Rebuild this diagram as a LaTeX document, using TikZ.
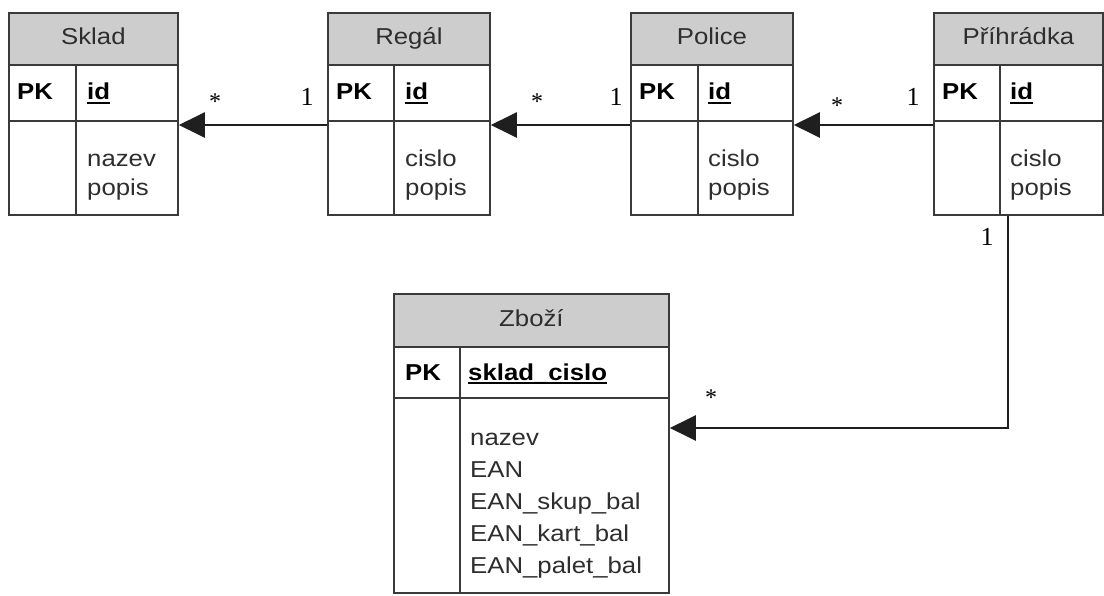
\documentclass[tikz,border=0pt]{standalone}
\usepackage{fontspec}
\setmainfont[FakeStretch=1.12]{Liberation Sans}
\newfontfamily\labfont{Liberation Serif}
\usetikzlibrary{arrows.meta}
\definecolor{hdrgray}{HTML}{CDCDCD}
\definecolor{linegray}{HTML}{3A3A3A}
\definecolor{txt}{HTML}{2E2E2E}
\begin{document}
\begin{tikzpicture}[x=1pt,y=-1pt,
  tbl/.style={draw=linegray, line width=1.8pt, anchor=north west, inner sep=0pt, fill=white},
  hdr/.style={draw=linegray, line width=1.8pt, fill=hdrgray, anchor=north west, inner sep=0pt,
    font=\fontsize{23}{28}\selectfont, text=txt, text height=17pt, text depth=5pt},
  grid/.style={draw=linegray, line width=1.8pt},
  uline/.style={draw=black, line width=1.3pt},
  fld/.style={anchor=base west, inner sep=0pt, font=\fontsize{23}{28}\selectfont, text=txt},
  pk/.style={anchor=base west, inner sep=0pt, font=\fontsize{23}{28}\selectfont\bfseries, text=black},
  one/.style={anchor=base, inner sep=0pt, font=\fontsize{26}{30}\labfont, text=black},
  many/.style={anchor=base, inner sep=0pt, font=\fontsize{24}{28}\labfont, text=black},
  conn/.style={draw=black!88, line width=2.2pt, -{Triangle[length=26pt,width=25pt]}}
]
\useasboundingbox (0,0) rectangle (1104,596);

% ---------- Sklad ----------
\node[tbl, minimum width=169pt, minimum height=202pt] (sklad) at (8,12) {};
\node[hdr, minimum width=169pt, minimum height=52pt] (skladH) at (8,12) {Sklad};
\draw[grid] (8,121) -- (177,121) (76,64) -- (76,214);
\node[pk] (skladPK) at (17,100) {PK};
\node[pk] (skladId) at (87,100) {id};
\draw[uline] ([yshift=-3pt]skladId.base west) -- ([yshift=-3pt]skladId.base east);
\node[fld] (skladA1) at (87,167) {nazev};
\node[fld] (skladA2) at (87,196) {popis};

% ---------- Regal ----------
\node[tbl, minimum width=162pt, minimum height=202pt] (regal) at (327,12) {};
\node[hdr, minimum width=162pt, minimum height=52pt] (regalH) at (327,12) {Regál};
\draw[grid] (327,121) -- (489,121) (394,64) -- (394,214);
\node[pk] (regalPK) at (336,100) {PK};
\node[pk] (regalId) at (405,100) {id};
\draw[uline] ([yshift=-3pt]regalId.base west) -- ([yshift=-3pt]regalId.base east);
\node[fld] (regalA1) at (405,167) {cislo};
\node[fld] (regalA2) at (405,196) {popis};

% ---------- Police ----------
\node[tbl, minimum width=162pt, minimum height=202pt] (police) at (630,12) {};
\node[hdr, minimum width=162pt, minimum height=52pt] (policeH) at (630,12) {Police};
\draw[grid] (630,121) -- (792,121) (698,64) -- (698,214);
\node[pk] (policePK) at (639,100) {PK};
\node[pk] (policeId) at (708,100) {id};
\draw[uline] ([yshift=-3pt]policeId.base west) -- ([yshift=-3pt]policeId.base east);
\node[fld] (policeA1) at (708,167) {cislo};
\node[fld] (policeA2) at (708,196) {popis};

% ---------- Prihradka ----------
\node[tbl, minimum width=169pt, minimum height=202pt] (prih) at (933,12) {};
\node[hdr, minimum width=169pt, minimum height=52pt] (prihH) at (933,12) {Příhrádka};
\draw[grid] (933,121) -- (1102,121) (1000,64) -- (1000,214);
\node[pk] (prihPK) at (942,100) {PK};
\node[pk] (prihId) at (1010,100) {id};
\draw[uline] ([yshift=-3pt]prihId.base west) -- ([yshift=-3pt]prihId.base east);
\node[fld] (prihA1) at (1010,167) {cislo};
\node[fld] (prihA2) at (1010,196) {popis};

% ---------- Zbozi ----------
\node[tbl, minimum width=275pt, minimum height=299pt] (zbozi) at (393,293) {};
\node[hdr, minimum width=275pt, minimum height=53pt] (zboziH) at (393,293) {Zboží};
\draw[grid] (393,398) -- (668,398) (460,346) -- (460,592);
\node[pk] (zboziPK) at (405,380) {PK};
\node[pk] (zboziId) at (468,380) {sklad\_cislo};
\draw[uline] ([yshift=-3pt]zboziId.base west) -- ([yshift=-3pt]zboziId.base east);
\node[fld] (zboziA1) at (470,445) {nazev};
\node[fld] (zboziA2) at (470,477) {EAN};
\node[fld] (zboziA3) at (470,509) {EAN\_skup\_bal};
\node[fld] (zboziA4) at (470,541) {EAN\_kart\_bal};
\node[fld] (zboziA5) at (470,573) {EAN\_palet\_bal};

% ---------- connectors ----------
\coordinate (rowy) at (0,125);
\draw[conn] (regal.west |- rowy) -- (sklad.east |- rowy);
\draw[conn] (police.west |- rowy) -- (regal.east |- rowy);
\draw[conn] (prih.west |- rowy) -- (police.east |- rowy);
\coordinate (bend) at (1008,428);
\draw[conn] (prih.south -| bend) -- (bend) -- (zbozi.east |- bend);

% ---------- cardinalities ----------
\node[many] (c1m) at (215,109.5) {*};
\node[one]  (c1o) at (307,106) {1};
\node[many] (c2m) at (537,109.5) {*};
\node[one]  (c2o) at (616,106) {1};
\node[many] (c3m) at (837,113.5) {*};
\node[one]  (c3o) at (913,106) {1};
\node[one]  (c4o) at (987,246) {1};
\node[many] (c4m) at (711,405) {*};
\end{tikzpicture}
\end{document}
